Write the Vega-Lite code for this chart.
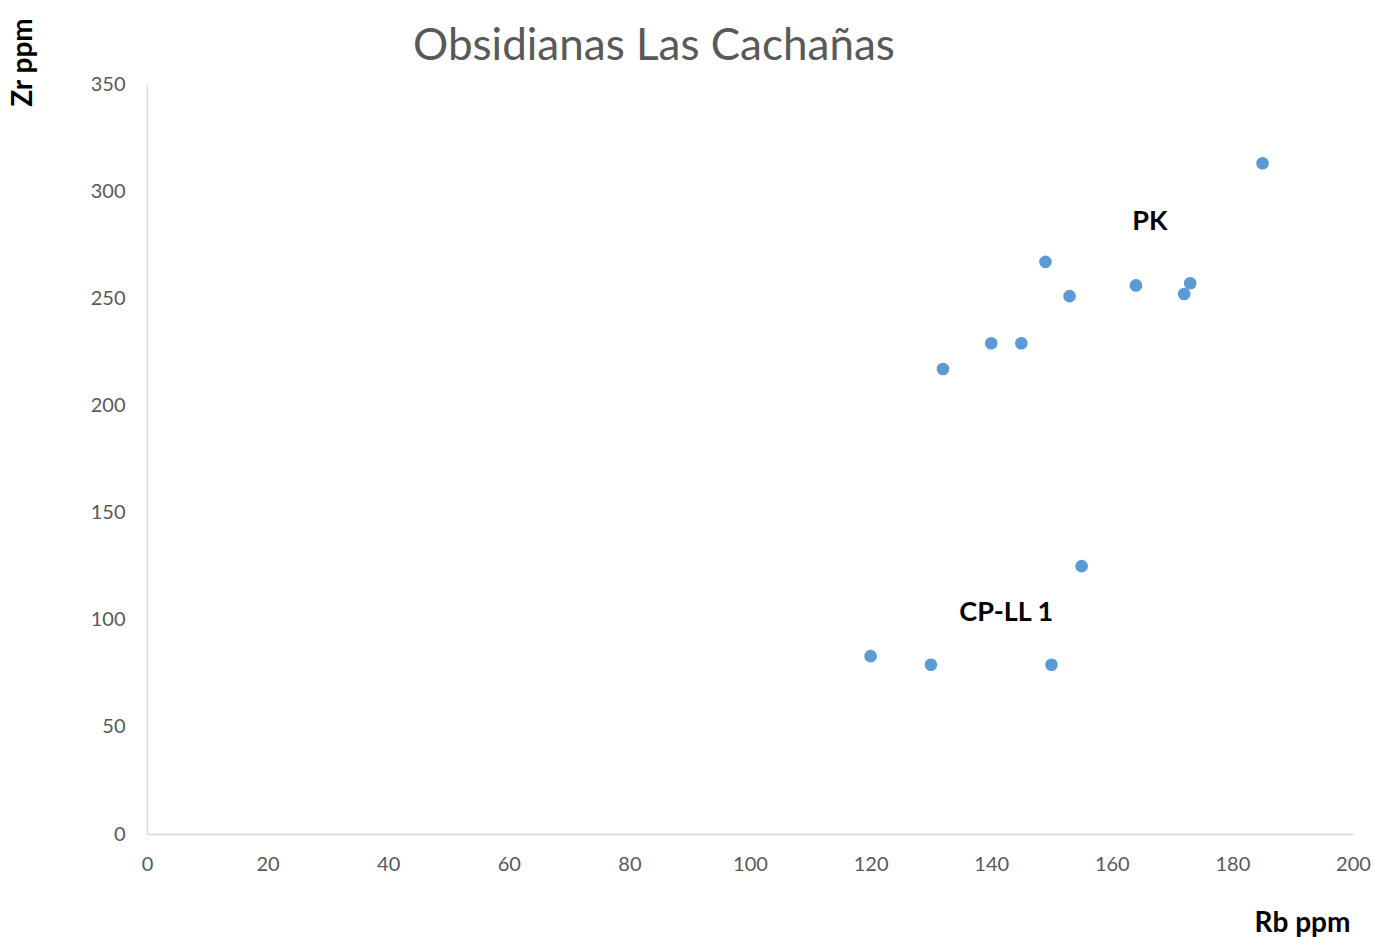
{
  "$schema": "https://vega.github.io/schema/vega-lite/v6.json",
  "autosize": {"type": "none"},
  "padding": {"left": 147, "top": 84, "right": 22, "bottom": 103},
  "width": 1206,
  "height": 750,
  "background": "white",
  "title": {
    "text": "Obsidianas Las Cachañas",
    "font": "Lato",
    "fontSize": 44,
    "fontWeight": "normal",
    "color": "#595959",
    "anchor": "middle",
    "frame": "group",
    "dx": -96,
    "baseline": "middle",
    "offset": 0,
    "dy": 74
  },
  "config": {
    "view": {"stroke": null},
    "font": "Lato"
  },
  "datasets": {
    "pts": [
      {"Rb": 120, "Zr": 83},
      {"Rb": 130, "Zr": 79},
      {"Rb": 150, "Zr": 79},
      {"Rb": 155, "Zr": 125},
      {"Rb": 132, "Zr": 217},
      {"Rb": 140, "Zr": 229},
      {"Rb": 145, "Zr": 229},
      {"Rb": 149, "Zr": 267},
      {"Rb": 153, "Zr": 251},
      {"Rb": 164, "Zr": 256},
      {"Rb": 172, "Zr": 252},
      {"Rb": 173, "Zr": 257},
      {"Rb": 185, "Zr": 313}
    ],
    "labels": [
      {"Rb": 166.3, "Zr": 285.6, "label": "PK"},
      {"Rb": 142.5, "Zr": 103, "label": "CP-LL 1"}
    ]
  },
  "layer": [
    {
      "data": {"name": "pts"},
      "mark": {"type": "circle", "size": 160, "color": "#5b9bd5", "opacity": 1},
      "encoding": {
        "x": {
          "field": "Rb", "type": "quantitative",
          "scale": {"domain": [0, 200], "nice": false, "zero": true},
          "axis": {
            "title": "Rb ppm",
            "values": [0, 20, 40, 60, 80, 100, 120, 140, 160, 180, 200],
            "grid": false, "ticks": false,
            "domainColor": "#d9d9d9", "domainWidth": 1.5,
            "labelFont": "Lato", "labelFontSize": 20, "labelColor": "#595959",
            "labelPadding": 20, "labelFlush": false,
            "titleFont": "Lato", "titleFontSize": 28, "titleFontWeight": "bold", "titleColor": "#000000",
            "titleX": 1155, "titleY": 89, "titleAlign": "center", "titleBaseline": "middle"
          }
        },
        "y": {
          "field": "Zr", "type": "quantitative",
          "scale": {"domain": [0, 350], "nice": false},
          "axis": {
            "title": "Zr ppm",
            "values": [0, 50, 100, 150, 200, 250, 300, 350],
            "grid": false, "ticks": false,
            "domainColor": "#d9d9d9", "domainWidth": 1.5,
            "labelFont": "Lato", "labelFontSize": 20, "labelColor": "#595959",
            "labelPadding": 22, "labelFlush": false,
            "titleFont": "Lato", "titleFontSize": 28, "titleFontWeight": "bold", "titleColor": "#000000",
            "titleX": -124, "titleY": -22, "titleAngle": -90, "titleAlign": "center", "titleBaseline": "middle"
          }
        }
      }
    },
    {
      "data": {"name": "labels"},
      "mark": {"type": "text", "font": "Lato", "fontSize": 27, "fontWeight": "bold", "color": "#000000", "align": "center", "baseline": "middle"},
      "encoding": {
        "x": {"field": "Rb", "type": "quantitative"},
        "y": {"field": "Zr", "type": "quantitative"},
        "text": {"field": "label"}
      }
    }
  ]
}
